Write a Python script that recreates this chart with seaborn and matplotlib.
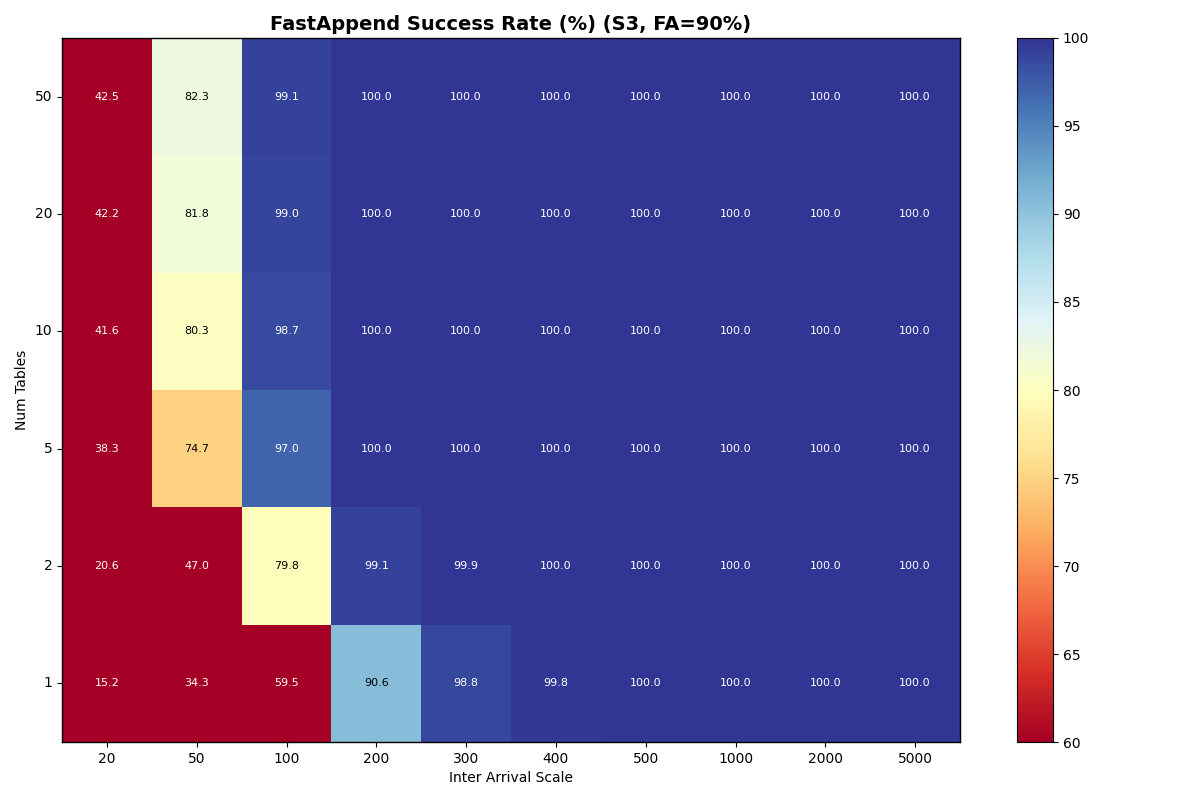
import numpy as np
import pandas as pd
import matplotlib
matplotlib.use("Agg")
import matplotlib.pyplot as plt
import matplotlib.colors as mcolors
import seaborn as sns

# Success rate (%) per num tables (rows, top to bottom) and inter arrival scale (cols)
inter_arrival = ["20", "50", "100", "200", "300", "400", "500", "1000", "2000", "5000"]
num_tables = ["50", "20", "10", "5", "2", "1"]

row_50 = [42.5, 82.3, 99.1, 100.0, 100.0, 100.0, 100.0, 100.0, 100.0, 100.0]
row_20 = [42.2, 81.8, 99.0, 100.0, 100.0, 100.0, 100.0, 100.0, 100.0, 100.0]
row_10 = [41.6, 80.3, 98.7, 100.0, 100.0, 100.0, 100.0, 100.0, 100.0, 100.0]
row_5 = [38.3, 74.7, 97.0, 100.0, 100.0, 100.0, 100.0, 100.0, 100.0, 100.0]
row_2 = [20.6, 47.0, 79.8, 99.1, 99.9, 100.0, 100.0, 100.0, 100.0, 100.0]
row_1 = [15.2, 34.3, 59.5, 90.6, 98.8, 99.8, 100.0, 100.0, 100.0, 100.0]

df = pd.DataFrame([row_50, row_20, row_10, row_5, row_2, row_1],
                  index=num_tables, columns=inter_arrival)

fig = plt.figure(figsize=(12, 8), dpi=100)
ax = fig.add_axes([62 / 1200, 58 / 800, 898 / 1200, 704 / 800])
cax = fig.add_axes([1017 / 1200, 58 / 800, 36 / 1200, 704 / 800])

sns.heatmap(df, ax=ax, cbar_ax=cax, cmap="RdYlBu", vmin=60, vmax=100,
            annot=True, fmt=".1f", annot_kws={"fontsize": 8})

# plain black instead of seaborn's dark grey on light cells
for t in ax.texts:
    if mcolors.to_hex(t.get_color()) != "#ffffff":
        t.set_color("black")

for s in ax.spines.values():
    s.set_visible(True)
    s.set_color("black")
    s.set_linewidth(1.0)
cax.set_frame_on(True)
for s in cax.spines.values():
    s.set_visible(True)
    s.set_color("black")

ax.tick_params(axis="both", length=3.5, labelsize=10)
ax.set_yticklabels(ax.get_yticklabels(), rotation=0)
ax.set_xticklabels(ax.get_xticklabels(), rotation=0)
cax.tick_params(labelsize=10, length=3.5)
cax.set_yticks([60, 65, 70, 75, 80, 85, 90, 95, 100])

ax.set_xlabel("Inter Arrival Scale", fontsize=10)
ax.set_ylabel("Num Tables", fontsize=10)
ax.set_title("FastAppend Success Rate (%) (S3, FA=90%)", fontsize=14, fontweight="bold")

fig.savefig("out.png", dpi=100)
